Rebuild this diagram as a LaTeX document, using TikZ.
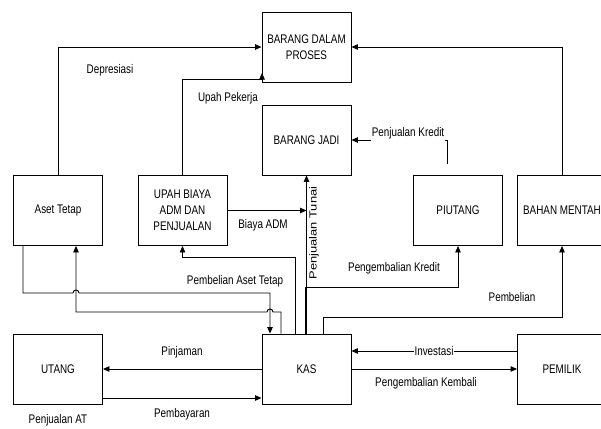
\documentclass[tikz,border=0pt]{standalone}
\usepackage{fontspec}
\setmainfont{Liberation Sans}[FakeStretch=0.79]
\newfontfamily\plainfont{Liberation Sans}
\usepackage{graphicx}
\usetikzlibrary{arrows.meta}
\begin{document}
\begin{tikzpicture}[x=1pt,y=-1pt,
  every node/.style={font=\fontsize{12.5}{16}\selectfont},
  box/.style={draw, line width=0.9pt, minimum width=89pt, minimum height=70pt, align=center, inner sep=0pt},
  ln/.style={line width=0.9pt},
  arr/.style={ln, -{Triangle[length=6.5pt,width=5.5pt]}},
  lbl/.style={inner sep=1pt}]
\useasboundingbox (0,0) rectangle (601,428);
\fill[white] (0,0) rectangle (601,428);

\node[box] (dp) at (306.5,47) {BARANG DALAM\\PROSES};
\node[box] (bj) at (306.5,140) {BARANG JADI};
\node[box] (aset) at (58,210.5) {Aset Tetap};
\node[box] (upah) at (182.5,210.5) {UPAH BIAYA\\ADM DAN\\PENJUALAN};
\node[box] (piu) at (458,210.5) {PIUTANG};
\node[box] (bahan) at (562,210.5) {BAHAN MENTAH};
\node[box] (utang) at (58,369) {UTANG};
\node[box] (kas) at (306.5,369) {KAS};
\node[box] (pem) at (562,369) {PEMILIK};

% Depresiasi
\draw[arr] (aset.north) |- (dp.west);
% Upah Pekerja
\coordinate (u1) at (262,79);
\draw[arr] (upah.north) |- (u1) -- ++(0,-6);
% Penjualan Kredit
\coordinate (pk) at (447,164);
\draw[arr] (pk) |- (bj.east);
\node[lbl, fill=white, inner ysep=4pt] (lpk) at (408,133) {Penjualan Kredit};
% Penjualan Tunai
\draw[arr] (kas.north) -- (bj.south);
\node[rotate=90] (lpt) at (314,233) {\plainfont\fontsize{12.9}{16}\selectfont\scalebox{1}[0.8]{Penjualan Tunai}};
% Pengembalian Kredit
\coordinate (c1) at (305.5,287);
\draw[arr] (c1 |- kas.north) -- (c1) -| (piu.south);
% Pembelian
\coordinate (c2) at (323,317);
\draw[arr] (c2 |- kas.north) -- (c2) -| (bahan.south);
% Bahan mentah -> barang dalam proses
\draw[arr] (bahan.north) |- (dp.east);
% Biaya ADM
\draw[arr] (upah.east) -- (upah.east -| kas.north);
% KAS -> UPAH
\coordinate (c3) at (295,257);
\draw[arr] (c3 |- kas.north) -- (c3) -| (upah.south);
% Aset Tetap -> KAS
\coordinate (c4) at (23,293);
\coordinate (c5) at (270,293);
\draw[arr] (c4 |- aset.south) -- (c4) -- (73,293) .. controls (73,289) and (79,289) .. (79,293) -- (c5) -- (c5 |- kas.north);
% KAS -> Aset Tetap
\coordinate (c6) at (281,312);
\coordinate (c7) at (76,312);
\draw[arr] (c6 |- kas.north) -- (c6) -- (273,312) .. controls (273,308) and (267,308) .. (267,312) -- (c7) -- (c7 |- aset.south);
% Pinjaman / Pembayaran
\draw[arr] (kas.west) -- (utang.east);
\draw[arr] ([yshift=-29pt]utang.east) -- ([yshift=-29pt]kas.west);
% Investasi / Pengembalian Kembali
\draw[arr] ([yshift=18pt]pem.west) -- ([yshift=18pt]kas.east);
\node[lbl, fill=white] (linv) at (434,351) {Investasi};
\draw[arr] (kas.east) -- (pem.west);

% Labels
\node (l1) at (110,70) {Depresiasi};
\node (l2) at (228,98) {Upah Pekerja};
\node (l3) at (263,225) {Biaya ADM};
\node (l4) at (235,281) {Pembelian Aset Tetap};
\node (l5) at (394,268) {Pengembalian Kredit};
\node (l6) at (512,297) {Pembelian};
\node (l7) at (182,352) {Pinjaman};
\node (l8) at (182,414) {Pembayaran};
\node (l9) at (58,420) {Penjualan AT};
\node (l10) at (426,383) {Pengembalian Kembali};
\end{tikzpicture}
\end{document}
